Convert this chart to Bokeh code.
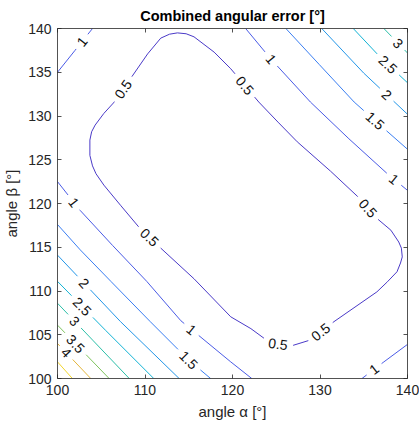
import math
import numpy as np
from bokeh.plotting import figure
from bokeh.models import LinearAxis, FixedTicker, Range1d
from bokeh.embed import file_html
from bokeh.resources import INLINE

# ---------------- data ----------------
levels = [0.5, 1.0, 1.5, 2.0, 2.5, 3.0, 3.5, 4.0, 4.5]
level_colors = ["#4A3AC8", "#4A5BE6", "#3A7EF2", "#2396E8", "#12B2D4",
                "#2CBFA8", "#7EC35E", "#E3B53C", "#F2D52B"]

x_ticks = [100, 110, 120, 130, 140]
y_ticks = [100, 105, 110, 115, 120, 125, 130, 135, 140]

# level 0.5 : closed loop
c050_alpha = [113.7, 114.7, 115.6, 117.9, 119.8, 121.4, 123.0, 125.2, 127.4, 131.2,
              134.3, 136.5, 138.1, 139.0, 139.3, 139.4, 139.2, 138.8, 137.7, 136.5,
              131.6, 128.9, 126.8, 125.2, 123.6, 122.1, 119.8, 115.6, 111.8, 109.3,
              107.2, 105.3, 104.4, 104.0, 103.7, 103.7, 103.9, 104.3, 105.3, 106.4,
              108.5, 110.3, 111.8, 112.8]
c050_beta = [139.5, 139.4, 139.05, 137.3, 135.4, 133.5, 131.6, 129.3, 127.05, 123.7,
             120.8, 118.3, 116.95, 115.6, 114.9, 113.9, 113.2, 112.2, 111.05, 109.9,
             106.5, 104.4, 103.75, 103.95, 104.6, 105.7, 107.05, 111.4, 114.9, 117.3,
             119.8, 122.1, 123.4, 124.3, 125.5, 127.25, 128.2, 128.96, 130.3, 131.5,
             134.5, 137.1, 138.9, 139.35]

# level 1
c100a_alpha = [100.0, 102.0, 104.0]
c100a_beta = [135.0, 137.5, 140.0]
c100b_alpha = [121.5, 124.4, 128.9, 133.3, 137.7, 140.0]
c100b_beta = [140.0, 136.5, 131.6, 127.4, 123.4, 121.5]
c100c_alpha = [100.0, 102.6, 106.3, 110.2, 114.1, 119.8, 122.2]
c100c_beta = [122.5, 119.2, 115.2, 111.1, 106.6, 101.9, 100.0]
c100d_alpha = [134.8, 137.3, 140.0]
c100d_beta = [100.0, 101.9, 103.9]

# level 1.5
c150a_alpha = [126.1, 129.9, 133.9, 137.5, 140.0]
c150a_beta = [140.0, 135.9, 131.6, 128.4, 126.2]
c150b_alpha = [100.0, 102.6, 106.1, 110.6, 115.0, 117.5]
c150b_beta = [117.6, 114.7, 111.1, 106.5, 102.1, 100.0]

# level 2
c200a_alpha = [130.2, 135.0, 140.0]
c200a_beta = [140.0, 134.9, 130.2]
c200b_alpha = [100.0, 103.6, 107.2, 113.9]
c200b_beta = [114.1, 110.3, 106.5, 100.0]

# level 2.5
c250a_alpha = [133.8, 137.0, 140.0]
c250a_beta = [140.0, 136.6, 133.8]
c250b_alpha = [100.0, 105.5, 111.0]
c250b_beta = [111.1, 105.5, 100.0]

# level 3
c300a_alpha = [137.3, 140.0]
c300a_beta = [140.0, 137.2]
c300b_alpha = [100.0, 104.1, 108.2]
c300b_beta = [108.6, 104.3, 100.0]

# level 3.5, 4, 4.5
c350_alpha = [100.0, 105.9]
c350_beta = [106.1, 100.0]
c400_alpha = [100.0, 103.8]
c400_beta = [104.0, 100.0]
c450_alpha = [100.0, 101.7]
c450_beta = [101.9, 100.0]

contour_lines = [
    (0.5, c050_alpha, c050_beta, True),
    (1.0, c100a_alpha, c100a_beta, False),
    (1.0, c100b_alpha, c100b_beta, False),
    (1.0, c100c_alpha, c100c_beta, False),
    (1.0, c100d_alpha, c100d_beta, False),
    (1.5, c150a_alpha, c150a_beta, False),
    (1.5, c150b_alpha, c150b_beta, False),
    (2.0, c200a_alpha, c200a_beta, False),
    (2.0, c200b_alpha, c200b_beta, False),
    (2.5, c250a_alpha, c250a_beta, False),
    (2.5, c250b_alpha, c250b_beta, False),
    (3.0, c300a_alpha, c300a_beta, False),
    (3.0, c300b_alpha, c300b_beta, False),
    (3.5, c350_alpha, c350_beta, False),
    (4.0, c400_alpha, c400_beta, False),
    (4.5, c450_alpha, c450_beta, False),
]

# contour labels (level, approximate place on the line)
label_level = [0.5, 0.5, 0.5, 0.5, 0.5, 0.5,
               1.0, 1.0, 1.0, 1.0, 1.0, 1.0,
               1.5, 1.5, 2.0, 2.0, 2.5, 2.5, 3.0, 3.0, 3.5, 4.0]
label_alpha = [107.6, 121.3, 135.4, 110.4, 125.2, 130.25,
               102.8, 124.4, 138.4, 101.7, 115.4, 136.15,
               136.15, 115.0, 137.5, 102.8, 137.7, 102.6, 138.8, 101.9, 102.0, 100.95]
label_beta = [133.0, 133.4, 119.4, 116.0, 103.9, 105.1,
              138.5, 136.5, 122.7, 120.0, 105.7, 101.1,
              129.3, 102.1, 132.3, 110.7, 135.8, 108.0, 138.2, 106.5, 103.9, 102.9]

# ---------------- geometry helpers ----------------
PX_PER_UNIT = 350 / 40.0
LABEL_PX = 14.0


def fmt(v):
    return ("%g" % v)


def arclen(xs, ys):
    d = np.hypot(np.diff(xs), np.diff(ys))
    return np.concatenate([[0.0], np.cumsum(d)])


def project(xs, ys, qx, qy):
    s = arclen(xs, ys)
    best = None
    for i in range(len(xs) - 1):
        ax, ay, bx, by = xs[i], ys[i], xs[i + 1], ys[i + 1]
        dx, dy = bx - ax, by - ay
        l2 = dx * dx + dy * dy
        t = max(0.0, min(1.0, ((qx - ax) * dx + (qy - ay) * dy) / l2))
        px, py = ax + t * dx, ay + t * dy
        dist = math.hypot(qx - px, qy - py)
        if best is None or dist < best[0]:
            best = (dist, s[i] + t * math.sqrt(l2), px, py, math.atan2(dy, dx))
    return best


def text_width_px(txt):
    return sum(LABEL_PX * (0.556 if c.isdigit() else 0.278) for c in txt)


# prepare polylines
lines = []
for lev, xs, ys, closed in contour_lines:
    xs = np.array(xs, dtype=float)
    ys = np.array(ys, dtype=float)
    if closed:
        xs = np.append(xs, xs[0])
        ys = np.append(ys, ys[0])
    lines.append({"level": lev, "x": xs, "y": ys, "gaps": []})

lab_x, lab_y, lab_t, lab_a = [], [], [], []
for lev, qx, qy in zip(label_level, label_alpha, label_beta):
    best = None
    for ln in lines:
        if ln["level"] != lev:
            continue
        r = project(ln["x"], ln["y"], qx, qy)
        if best is None or r[0] < best[0][0]:
            best = (r, ln)
    (dist, s0, px, py, ang), ln = best
    txt = fmt(lev)
    half = (text_width_px(txt) / 2 + 5.5) / PX_PER_UNIT
    ln["gaps"].append((s0 - half, s0 + half))
    if ang > math.pi / 2:
        ang -= math.pi
    elif ang <= -math.pi / 2:
        ang += math.pi
    lab_x.append(px)
    lab_y.append(py)
    lab_t.append(txt)
    lab_a.append(ang)

seg_xs, seg_ys, seg_col = [], [], []
for ln in lines:
    xs, ys = ln["x"], ln["y"]
    s = arclen(xs, ys)
    total = s[-1]
    gaps = sorted(ln["gaps"])
    keep = []
    start = 0.0
    for a, b in gaps:
        keep.append((start, max(a, 0.0)))
        start = min(b, total)
    keep.append((start, total))
    col = level_colors[levels.index(ln["level"])]
    for u, v in keep:
        if v - u <= 1e-6:
            continue
        inner = (s > u) & (s < v)
        px = np.concatenate([[np.interp(u, s, xs)], xs[inner], [np.interp(v, s, xs)]])
        py = np.concatenate([[np.interp(u, s, ys)], ys[inner], [np.interp(v, s, ys)]])
        seg_xs.append(list(px))
        seg_ys.append(list(py))
        seg_col.append(col)

# ---------------- figure ----------------
FONT = "Liberation Sans"
AX_COL = "#262626"

p = figure(frame_width=350, frame_height=350,
           x_range=Range1d(100, 140), y_range=Range1d(100, 140),
           output_backend="svg", toolbar_location=None,
           min_border_left=57, min_border_right=12,
           min_border_top=27, min_border_bottom=46,
           title="Combined angular error [°]")
p.outline_line_color = None
p.xgrid.visible = False
p.ygrid.visible = False
p.background_fill_color = "white"
p.border_fill_color = "white"

p.title.align = "center"
p.title.text_font = FONT
p.title.text_font_size = "14.5px"
p.title.text_font_style = "bold"
p.title.text_color = "#000000"

p.add_layout(LinearAxis(), "above")
p.add_layout(LinearAxis(), "right")

for ax in p.xaxis:
    ax.ticker = FixedTicker(ticks=x_ticks)
for ax in p.yaxis:
    ax.ticker = FixedTicker(ticks=y_ticks)

for ax in list(p.xaxis) + list(p.yaxis):
    ax.axis_line_color = AX_COL
    ax.axis_line_width = 0.8
    ax.major_tick_line_color = AX_COL
    ax.major_tick_line_width = 0.8
    ax.major_tick_in = 4
    ax.major_tick_out = 0
    ax.minor_tick_line_color = None
    ax.major_label_text_font = FONT
    ax.major_label_text_font_size = "14px"
    ax.major_label_text_color = AX_COL
    ax.axis_label_text_font = FONT
    ax.axis_label_text_font_size = "15px"
    ax.axis_label_text_font_style = "normal"
    ax.axis_label_text_color = AX_COL

bottom = p.below[0]
left = p.left[0]
bottom.axis_label = "angle α [°]"
left.axis_label = "angle β [°]"
bottom.major_label_standoff = 6
left.major_label_standoff = 6
bottom.axis_label_standoff = 5
left.axis_label_standoff = 5

for ax in (p.above[0], p.right[0]):
    ax.major_label_text_font_size = "0px"
    ax.major_label_text_color = None
    ax.major_label_standoff = 0
    ax.axis_label = None

p.multi_line(xs=seg_xs, ys=seg_ys, line_color=seg_col, line_width=1.0)
p.text(x=lab_x, y=lab_y, text=lab_t, angle=lab_a,
       text_align="center", text_baseline="middle",
       text_font_size="%gpx" % LABEL_PX, text_color="#111111",
       text_font={"value": FONT})

open("out.html", "w").write(file_html(p, INLINE))
